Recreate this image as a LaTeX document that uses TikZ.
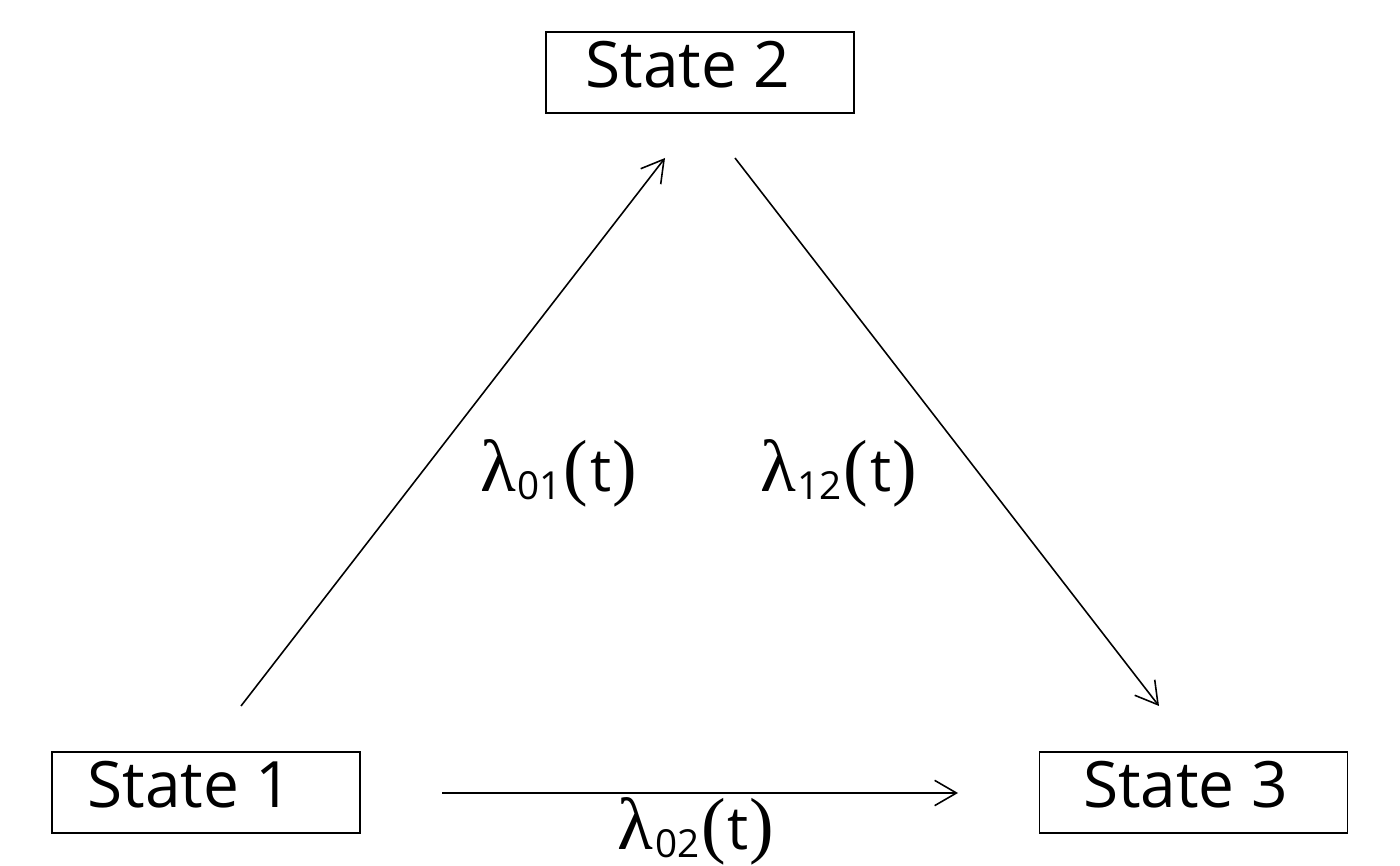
\documentclass[tikz,border=0pt]{standalone}
\usepackage{fontspec}
\setmainfont{Open Sans}
\newfontfamily\grk{Liberation Serif}
\usetikzlibrary{arrows.meta}
\newcommand{\lbl}[1]{{\fontsize{21}{24}\selectfont\grk λ}\kern0.5pt\raisebox{-2pt}{\fontsize{11}{13}\selectfont #1}\kern0.5pt{\fontsize{21}{24}\selectfont\grk (}\kern0.5pt{\fontsize{17}{20}\selectfont t}\kern0.3pt{\fontsize{21}{24}\selectfont\grk )}}
\tikzset{
  statebox/.style={draw, line width=0.45pt, minimum width=3.08cm, minimum height=0.81cm, inner sep=0pt, text height=0.45cm, text depth=0.15cm, font=\fontsize{18.2}{21}\selectfont},
  conn/.style={line width=0.45pt, -{Straight Barb[length=6.2pt,width=7.2pt,line width=0.45pt]}},
  rate/.style={inner sep=0pt, anchor=base}
}
\begin{document}
\begin{tikzpicture}
\useasboundingbox (0,0) rectangle (14,8.66);
\node[statebox] (s2) at (7.00,7.935) {State 2\hspace*{0.24cm}};
\node[statebox] (s1) at (2.06,0.735) {State 1\hspace*{0.32cm}};
\node[statebox] (s3) at (11.935,0.735) {State 3\hspace*{0.16cm}};
\coordinate (a1s) at (2.41,1.60);
\coordinate (a1e) at (6.65,7.08);
\coordinate (a2s) at (7.35,7.08);
\coordinate (a2e) at (11.59,1.60);
\coordinate (a3s) at (4.42,0.73);
\coordinate (a3e) at (9.58,0.73);
\draw[conn] (a1s) -- (a1e);
\draw[conn] (a2s) -- (a2e);
\draw[conn] (a3s) -- (a3e);
\node[rate] (l01) at (5.585,3.74) {\lbl{01}};
\node[rate] (l12) at (8.385,3.74) {\lbl{12}};
\node[rate] (l02) at (6.96,0.16) {\lbl{02}};
\end{tikzpicture}
\end{document}
